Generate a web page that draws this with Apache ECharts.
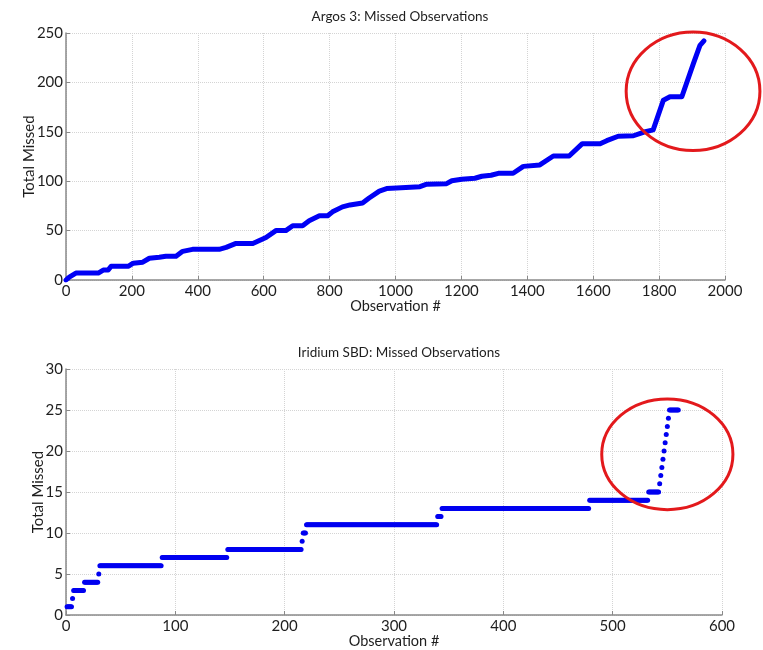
<!DOCTYPE html>
<html>
<head>
<meta charset="utf-8">
<script src="https://cdn.jsdelivr.net/npm/echarts@6/dist/echarts.min.js"></script>
<style>
html,body{margin:0;padding:0;background:#fff;}
#chart{width:763px;height:650px;}
</style>
</head>
<body>
<div id="chart"></div>
<script>
// ---------- Data ----------
// Argos 3: cumulative missed observations, vertices of the curve [observation #, total missed]
const argosObs = [0, 10, 30, 98, 113, 128, 137, 190, 204, 233, 253, 283, 303, 334, 354, 384, 465, 486, 516, 567,
  587, 607, 637, 667, 688, 718, 738, 769, 794, 809, 839, 862, 900, 920, 951, 973, 1003, 1074, 1095, 1155,
  1171, 1201, 1241, 1262, 1290, 1312, 1357, 1388, 1438, 1479, 1527, 1567, 1621, 1641, 1676, 1722, 1752, 1782,
  1813, 1833, 1869, 1904, 1924, 1936];
const argosMissed = [0, 3, 7, 7, 10, 10, 14, 14, 17, 18, 22, 23, 24, 24, 29, 31, 31, 33, 37, 37,
  40, 43, 50, 50, 55, 55, 60, 65, 65, 69, 74, 76, 78, 83, 90, 92.5, 93, 94.5, 97, 97.5,
  100.5, 102, 103, 105, 106, 108, 108, 115, 116.5, 125.5, 125.5, 138, 138, 141, 145.5, 146, 149.5, 152,
  182, 185.5, 185.5, 219, 237.5, 242];

// Iridium SBD: step runs — first observation # of each cumulative-missed value
const iridiumRunStart = [1, 6, 7, 17, 30, 31, 88, 148, 216, 217, 220, 340, 344, 479, 533,
  543, 544, 545, 546, 547, 548, 549, 550, 551, 552];
const iridiumRunValue = [1, 2, 3, 4, 5, 6, 7, 8, 9, 10, 11, 12, 13, 14, 15,
  16, 17, 18, 19, 20, 21, 22, 23, 24, 25];
const iridiumLastObs = 560;

// Axis ticks
const argosXTicks = [0, 200, 400, 600, 800, 1000, 1200, 1400, 1600, 1800, 2000];
const argosYTicks = [0, 50, 100, 150, 200, 250];
const iridiumXTicks = [0, 100, 200, 300, 400, 500, 600];
const iridiumYTicks = [0, 5, 10, 15, 20, 25, 30];

// Titles / labels
const titles = ['Argos 3: Missed Observations', 'Iridium SBD: Missed Observations'];
const xName = 'Observation #';
const yName = 'Total Missed';

// Annotation ellipses in data units: [centre x, centre y, radius x, radius y]
const argosHighlight = [1903, 191, 203, 60];
const iridiumHighlight = [550, 19.6, 60, 6.75];

// ---------- Build series data ----------
const argosData = argosObs.map((x, i) => [x, argosMissed[i]]);
const iridiumData = [];
iridiumRunStart.forEach((s, i) => {
  const e = i + 1 < iridiumRunStart.length ? iridiumRunStart[i + 1] - 1 : iridiumLastObs;
  for (let o = s; o <= e; o++) iridiumData.push([o, iridiumRunValue[i]]);
});

// ---------- Chart ----------
const FONT = 'Lato';
const TEXT = '#1e1e1e';
const chart = echarts.init(document.getElementById('chart'), null, {renderer: 'canvas'});

function xAxisCfg(gridIndex, ticks) {
  return {
    type: 'value', gridIndex,
    min: ticks[0], max: ticks[ticks.length - 1], interval: ticks[1] - ticks[0],
    name: xName, nameLocation: 'middle', nameGap: 19, nameMoveOverlap: false,
    nameTextStyle: {fontFamily: FONT, fontSize: 14.5, color: TEXT},
    axisLine: {show: true, onZero: false, lineStyle: {color: '#8a8a8a', width: 1.5}},
    axisTick: {show: true, inside: true, length: 4, lineStyle: {color: '#8a8a8a'}},
    axisLabel: {fontFamily: FONT, fontSize: 15, color: TEXT, margin: 4, showMinLabel: true, showMaxLabel: true,
      formatter: v => String(v)},
    splitLine: {show: true, lineStyle: {color: '#d4d4d4', type: 'dotted', width: 1}}
  };
}
function yAxisCfg(gridIndex, ticks, nameGap) {
  return {
    type: 'value', gridIndex,
    min: ticks[0], max: ticks[ticks.length - 1], interval: ticks[1] - ticks[0],
    name: yName, nameLocation: 'middle', nameGap, nameMoveOverlap: false,
    nameTextStyle: {fontFamily: FONT, fontSize: 15, color: TEXT},
    axisLine: {show: true, lineStyle: {color: '#8a8a8a', width: 1.5}},
    axisTick: {show: true, inside: true, length: 4, lineStyle: {color: '#8a8a8a'}},
    axisLabel: {fontFamily: FONT, fontSize: 15, color: TEXT, margin: 3, showMinLabel: true, showMaxLabel: true,
      formatter: v => String(v)},
    splitLine: {show: true, lineStyle: {color: '#d4d4d4', type: 'dotted', width: 1}}
  };
}
function ellipseRender(params, api) {
  const c = api.coord([api.value(0), api.value(1)]);
  const s = api.size([api.value(2), api.value(3)]);
  return {
    type: 'ellipse',
    shape: {cx: c[0], cy: c[1], rx: s[0], ry: s[1]},
    style: {fill: 'none', stroke: '#e3191c', lineWidth: 3}
  };
}

chart.setOption({
  animation: false,
  backgroundColor: '#ffffff',
  title: [
    {text: titles[0], left: 395, top: 5, textAlign: 'center',
     textStyle: {fontFamily: FONT, fontSize: 13.5, fontWeight: 'normal', color: TEXT}},
    {text: titles[1], left: 394, top: 341, textAlign: 'center',
     textStyle: {fontFamily: FONT, fontSize: 13.5, fontWeight: 'normal', color: TEXT}}
  ],
  grid: [
    {left: 66, top: 33, width: 659, height: 247, containLabel: false},
    {left: 66, top: 369, width: 656, height: 247, containLabel: false}
  ],
  xAxis: [xAxisCfg(0, argosXTicks), xAxisCfg(1, iridiumXTicks)],
  yAxis: [yAxisCfg(0, argosYTicks, 29), yAxisCfg(1, iridiumYTicks, 20)],
  series: [
    {type: 'line', xAxisIndex: 0, yAxisIndex: 0, data: argosData,
     showSymbol: false, symbol: 'none', lineStyle: {color: '#0000f5', width: 5, cap: 'round', join: 'round'},
     itemStyle: {color: '#0000f5'}, z: 3},
    {type: 'scatter', xAxisIndex: 1, yAxisIndex: 1, data: iridiumData,
     symbol: 'circle', symbolSize: 5, itemStyle: {color: '#0000f0', opacity: 1}, z: 3},
    {type: 'custom', xAxisIndex: 0, yAxisIndex: 0, data: [argosHighlight],
     renderItem: ellipseRender, clip: false, silent: true, z: 5},
    {type: 'custom', xAxisIndex: 1, yAxisIndex: 1, data: [iridiumHighlight],
     renderItem: ellipseRender, clip: false, silent: true, z: 5}
  ]
});
</script>
</body>
</html>
